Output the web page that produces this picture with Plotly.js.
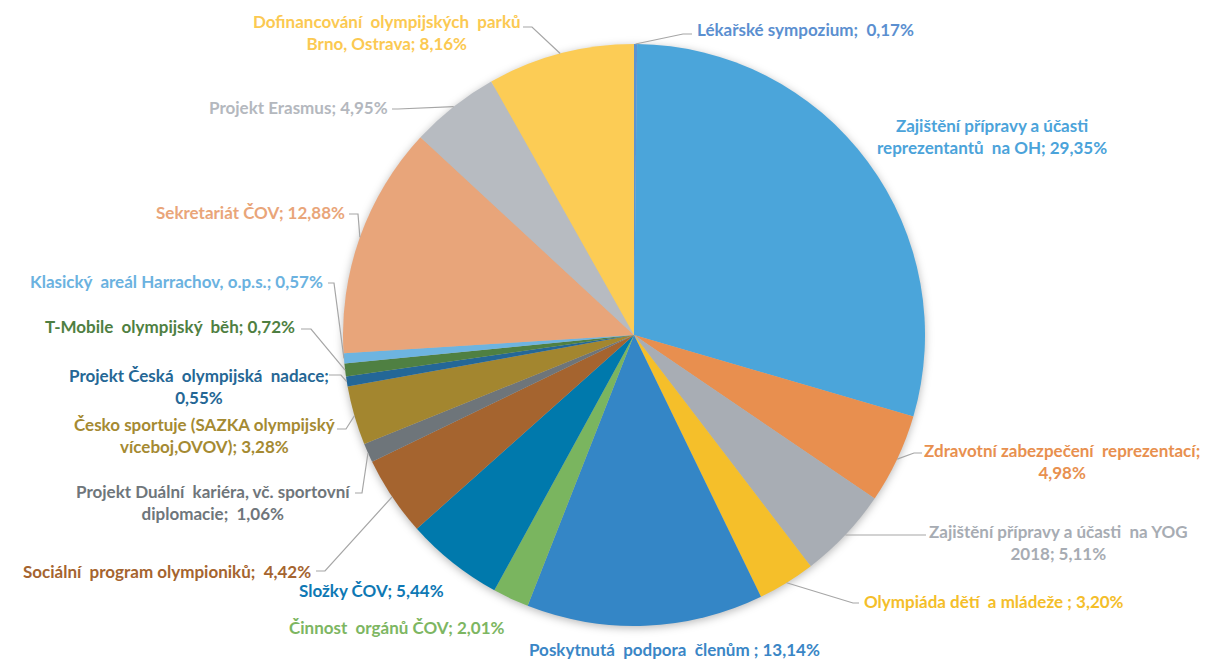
<!DOCTYPE html>
<html>
<head>
<meta charset="utf-8">
<script src="https://cdn.plot.ly/plotly-3.0.1.min.js"></script>
<style>
html,body{margin:0;padding:0;background:#fff;}
#chart{width:1205px;height:662px;}
.pielayer{filter:drop-shadow(0px 2px 4px rgba(0,0,0,0.28));}
</style>
</head>
<body>
<div id="chart"></div>
<script>
// ---- data ----
const categories = [
  "Lékařské sympozium",
  "Zajištění přípravy a účasti reprezentantů na OH",
  "Zdravotní zabezpečení reprezentací",
  "Zajištění přípravy a účasti na YOG 2018",
  "Olympiáda dětí a mládeže",
  "Poskytnutá podpora členům",
  "Činnost orgánů ČOV",
  "Složky ČOV",
  "Sociální program olympioniků",
  "Projekt Duální kariéra, vč. sportovní diplomacie",
  "Česko sportuje (SAZKA olympijský víceboj,OVOV)",
  "Projekt Česká olympijská nadace",
  "T-Mobile olympijský běh",
  "Klasický areál Harrachov, o.p.s.",
  "Sekretariát ČOV",
  "Projekt Erasmus",
  "Dofinancování olympijských parků Brno, Ostrava"
];
const shares = [0.17, 29.35, 4.98, 5.11, 3.20, 13.14, 2.01, 5.44, 4.42, 1.06, 3.28, 0.55, 0.72, 0.57, 12.88, 4.95, 8.16];
const labelTexts = [
  "Lékařské sympozium;  0,17%",
  "Zajištění přípravy a účasti<br>reprezentantů  na OH; 29,35%",
  "Zdravotní zabezpečení  reprezentací;<br>4,98%",
  "Zajištění přípravy a účasti  na YOG<br>2018; 5,11%",
  "Olympiáda dětí  a mládeže ; 3,20%",
  "Poskytnutá  podpora  členům ; 13,14%",
  "Činnost  orgánů ČOV; 2,01%",
  "Složky ČOV; 5,44%",
  "Sociální  program olympioniků;  4,42%",
  "Projekt Duální  kariéra, vč. sportovní<br>diplomacie;  1,06%",
  "Česko sportuje (SAZKA olympijský<br>víceboj,OVOV); 3,28%",
  "Projekt Česká  olympijská  nadace;<br>0,55%",
  "T-Mobile  olympijský  běh; 0,72%",
  "Klasický  areál Harrachov, o.p.s.; 0,57%",
  "Sekretariát ČOV; 12,88%",
  "Projekt Erasmus; 4,95%",
  "Dofinancování  olympijských  parků<br>Brno, Ostrava; 8,16%"
];

// ---- styles ----
const sliceColors = ["#5D93CF","#4BA5DA","#E88F4F","#A8ADB4","#F5BF2A","#3486C6","#7AB55F","#0079AC",
  "#A5642F","#6E757A","#A3862F","#246797","#4F8042","#6DB4E0","#E8A57A","#B7BBC1","#FCCC55"];
const textColors = ["#5B8FD0","#4BA3DA","#E8904F","#A7ACB3","#F4BE2A","#3A86C6","#7DB662","#0E78B4",
  "#A5642F","#6F767B","#A58A32","#256795","#4F7F42","#6BB2E0","#E9A579","#B4B8BE","#FBC952"];

const W = 1205, H = 662;
const cx = 634, cy = 335, R = 291;

// label placement (px): x, y (center of block), anchor, leader elbow and end (null = no leader)
const place = [
  {x:695, y:30,  a:"left",   elbow:[683,34],  end:[692,34]},
  {x:992, y:136, a:"center", elbow:null},
  {x:1062,y:461, a:"center", elbow:[914,453], end:[922,453]},
  {x:1058,y:542, a:"center", elbow:[918,535], end:[926,535]},
  {x:862, y:601, a:"left",   elbow:[853,603], end:[859,603]},
  {x:674, y:649, a:"center", elbow:null},
  {x:397, y:627, a:"center", elbow:null},
  {x:371, y:590, a:"center", elbow:null},
  {x:313, y:571, a:"right",  elbow:[325,571], end:[316,571]},
  {x:213, y:503, a:"center", elbow:[362,493], end:[355,493]},
  {x:204, y:436, a:"center", elbow:[346,429], end:[337,429]},
  {x:199, y:386, a:"center", elbow:[341,375], end:[329,375]},
  {x:297, y:326, a:"right",  elbow:[311,329], end:[301,329]},
  {x:325, y:281, a:"right",  elbow:[334,283], end:[328,283]},
  {x:347, y:212, a:"right",  elbow:[358,214], end:[349,214]},
  {x:390, y:108, a:"right",  elbow:[398,109], end:[392,109]},
  {x:387, y:33,  a:"center", elbow:[532,27],  end:[523,27]}
];

const px = v => v / W;
const py = v => 1 - v / H;

const total = shares.reduce((s, v) => s + v, 0);
const annotations = [];
const shapes = [];
let cum = 0;
shares.forEach((v, i) => {
  const mid = (cum + v / 2) / total * 2 * Math.PI;
  cum += v;
  const sx = cx + R * Math.sin(mid);
  const sy = cy - R * Math.cos(mid);
  const p = place[i];
  annotations.push({
    xref:"paper", yref:"paper", x:px(p.x), y:py(p.y),
    xanchor:p.a, yanchor:"middle", align:"center", showarrow:false,
    text:labelTexts[i],
    font:{family:"Lato, 'Open Sans', sans-serif", size:17, color:textColors[i], weight:700}
  });
  if (p.elbow) {
    shapes.push({
      type:"path", xref:"paper", yref:"paper",
      path:`M ${px(sx)} ${py(sy)} L ${px(p.elbow[0])} ${py(p.elbow[1])} L ${px(p.end[0])} ${py(p.end[1])}`,
      line:{color:"#A6A6A6", width:1.2}
    });
  }
});

const trace = {
  type:"pie",
  labels:categories,
  values:shares,
  sort:false,
  direction:"clockwise",
  rotation:0,
  textinfo:"none",
  hoverinfo:"label+percent",
  marker:{colors:sliceColors, line:{width:0}},
  domain:{x:[(cx-R)/W, (cx+R)/W], y:[1-(cy+R)/H, 1-(cy-R)/H]},
  showlegend:false
};

Plotly.newPlot("chart", [trace], {
  width:W, height:H,
  margin:{l:0, r:0, t:0, b:0},
  paper_bgcolor:"#fff",
  annotations:annotations,
  shapes:shapes
}, {displayModeBar:false, staticPlot:true});
</script>
</body>
</html>
